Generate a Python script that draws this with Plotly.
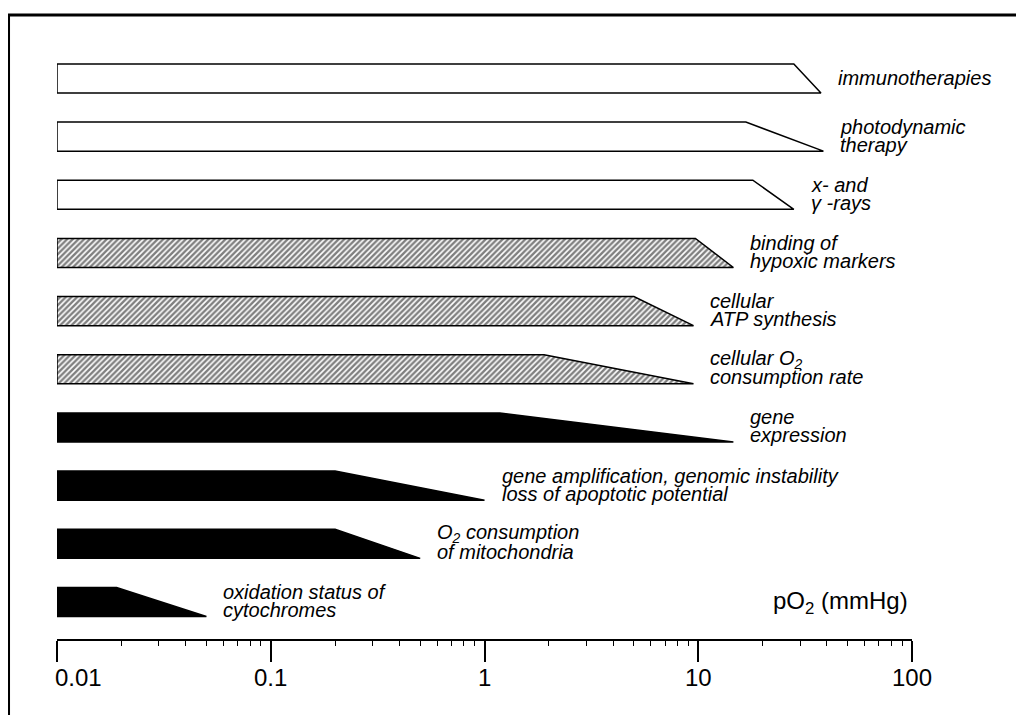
import math
import plotly.graph_objects as go

# ---- data (bottom row first) ----
labels = [
    "oxidation status of<br>cytochromes",
    "O<sub>2</sub> consumption<br>of mitochondria",
    "gene amplification, genomic instability<br>loss of apoptotic potential",
    "gene<br>expression",
    "cellular O<sub>2</sub><br>consumption rate",
    "cellular<br>ATP synthesis",
    "binding of<br>hypoxic markers",
    "x- and<br>γ -rays",
    "photodynamic<br>therapy",
    "immunotherapies",
]
flat_end = [0.019, 0.2, 0.2, 1.18, 1.9, 5.0, 9.7, 18, 16.7, 28]     # pO2 where full effect ends
tip_end = [0.05, 0.5, 1.0, 14.6, 9.5, 9.5, 14.6, 28, 38.5, 37.5]    # pO2 where the effect fades out
styles = ["solid", "solid", "solid", "solid",
          "hatch", "hatch", "hatch",
          "open", "open", "open"]
x_start = 0.01
tick_vals = [0.01, 0.1, 1, 10, 100]
tick_text = ["0.01", "0.1", "1", "10", "100"]
minor_vals = [k * 10 ** d for d in range(-2, 2) for k in range(2, 10)]
axis_title = "pO<sub>2</sub> (mmHg)"

HALF = 0.25
FONT = "Liberation Sans, Arial, sans-serif"

fig = go.Figure()
for i, (lab, fe, te, st) in enumerate(zip(labels, flat_end, tip_end, styles)):
    xs = [x_start, x_start, fe, te, x_start]
    ys = [i - HALF, i + HALF, i + HALF, i - HALF, i - HALF]
    kw = dict(x=xs, y=ys, mode="lines", fill="toself",
              line=dict(color="black", width=1.5), showlegend=False,
              hoverinfo="skip")
    if st == "solid":
        kw["fillcolor"] = "black"
    elif st == "open":
        kw["fillcolor"] = "white"
    else:
        kw["fillcolor"] = "white"
        kw["fillpattern"] = dict(shape="/", size=4, solidity=0.6,
                                 fgcolor="black", bgcolor="white")
    fig.add_trace(go.Scatter(**kw))

annotations = []
for i, (lab, te) in enumerate(zip(labels, tip_end)):
    lines = lab.split("<br>")
    shifts = [0] if len(lines) == 1 else [10, -8]
    for ln, ys in zip(lines, shifts):
        annotations.append(dict(
            x=math.log10(te), y=i, xref="x", yref="y",
            text="<i>" + ln + "</i>", showarrow=False,
            xanchor="left", yanchor="middle", xshift=15, yshift=ys,
            font=dict(family=FONT, size=20, color="black")))

for v, t in zip(tick_vals, tick_text):
    first = v == tick_vals[0]
    annotations.append(dict(
        x=math.log10(v), y=0, xref="x", yref="paper",
        text=t, showarrow=False,
        xanchor="left" if first else "center", yanchor="middle",
        xshift=-4 if first else 0, yshift=-38,
        font=dict(family=FONT, size=24, color="black")))

annotations.append(dict(
    x=math.log10(tick_vals[-1]), y=0, xref="x", yref="y",
    text=axis_title, showarrow=False, xanchor="right", yanchor="middle",
    xshift=-2, yshift=0,
    font=dict(family=FONT, size=24, color="black")))

fig.update_layout(
    width=1016, height=707, autosize=False,
    margin=dict(l=49, r=112, t=32, b=76),
    paper_bgcolor="white", plot_bgcolor="white",
    annotations=annotations,
    shapes=[dict(type="rect", xref="paper", yref="paper",
                 x0=-0.0567, x1=1.5, y0=-0.5, y1=1.0417,
                 line=dict(color="black", width=3), layer="above")],
    xaxis=dict(type="log", range=[-2, 2], showgrid=False, zeroline=False,
               showline=True, linecolor="black", linewidth=2,
               tickmode="array", tickvals=tick_vals, ticks="outside",
               ticklen=21, tickwidth=2, tickcolor="black",
               showticklabels=False,
               minor=dict(tickmode="array", tickvals=minor_vals,
                          ticks="outside", ticklen=5, tickwidth=1,
                          tickcolor="black", showgrid=False)),
    yaxis=dict(range=[-0.636, 9.661], visible=False, showgrid=False,
               zeroline=False, fixedrange=True),
)

fig.write_html("out.html")
